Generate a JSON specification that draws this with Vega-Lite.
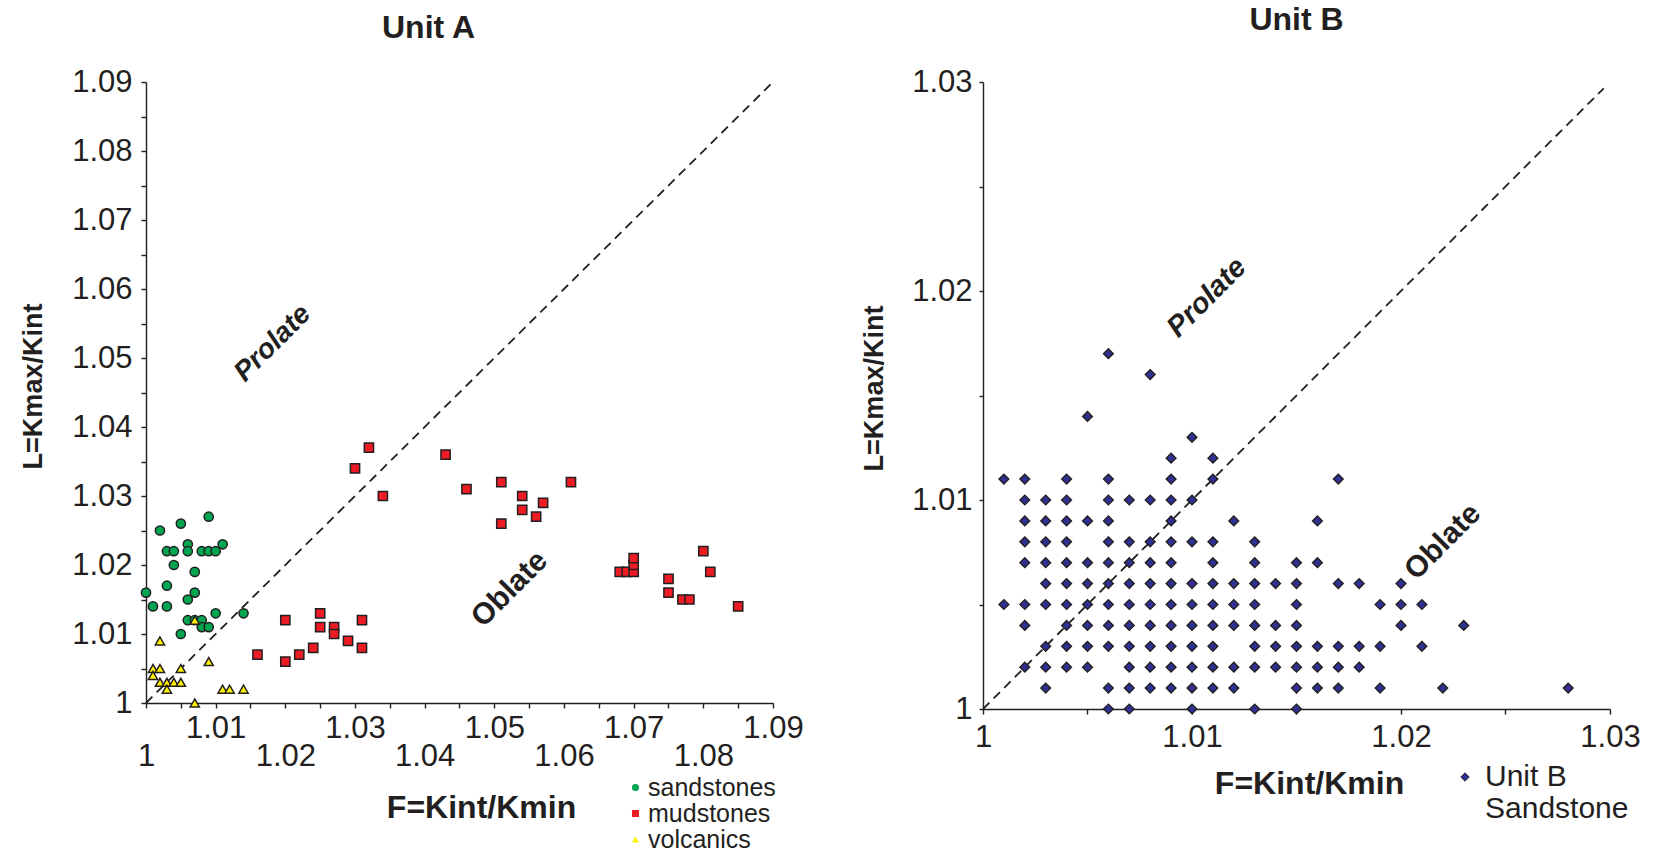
{
  "$schema": "https://vega.github.io/schema/vega-lite/v6.json",
  "background": "white",
  "padding": {"left": 19, "top": 4, "right": 5, "bottom": 0},
  "spacing": 56,
  "config": {
    "font": "Liberation Sans",
    "view": {"stroke": null},
    "axis": {
      "grid": false,
      "domainColor": "#231f20",
      "tickColor": "#231f20",
      "labelColor": "#231f20",
      "titleColor": "#231f20",
      "labelFont": "Liberation Sans",
      "titleFont": "Liberation Sans",
      "labelFontSize": 31,
      "titleFontSize": 28,
      "titleFontWeight": "bold",
      "domainWidth": 1.4,
      "tickWidth": 1.4,
      "tickSize": 5,
      "labelFlush": false,
      "labelOverlap": false,
      "labelBound": false
    },
    "legend": {"labelFont": "Liberation Sans", "labelColor": "#231f20"},
    "title": {"fontSize": 32, "fontWeight": "bold", "color": "#231f20", "font": "Liberation Sans"}
  },
  "resolve": {"scale": {"x": "independent", "y": "independent", "fill": "independent", "shape": "independent"}},
  "datasets": {
    "unitA": [
      {"F": 1.000, "L": 1.016, "type": "sandstones"},
      {"F": 1.002, "L": 1.025, "type": "sandstones"},
      {"F": 1.005, "L": 1.026, "type": "sandstones"},
      {"F": 1.009, "L": 1.027, "type": "sandstones"},
      {"F": 1.003, "L": 1.022, "type": "sandstones"},
      {"F": 1.004, "L": 1.022, "type": "sandstones"},
      {"F": 1.006, "L": 1.023, "type": "sandstones"},
      {"F": 1.006, "L": 1.022, "type": "sandstones"},
      {"F": 1.008, "L": 1.022, "type": "sandstones"},
      {"F": 1.009, "L": 1.022, "type": "sandstones"},
      {"F": 1.010, "L": 1.022, "type": "sandstones"},
      {"F": 1.011, "L": 1.023, "type": "sandstones"},
      {"F": 1.004, "L": 1.020, "type": "sandstones"},
      {"F": 1.007, "L": 1.019, "type": "sandstones"},
      {"F": 1.003, "L": 1.017, "type": "sandstones"},
      {"F": 1.007, "L": 1.016, "type": "sandstones"},
      {"F": 1.006, "L": 1.015, "type": "sandstones"},
      {"F": 1.001, "L": 1.014, "type": "sandstones"},
      {"F": 1.003, "L": 1.014, "type": "sandstones"},
      {"F": 1.010, "L": 1.013, "type": "sandstones"},
      {"F": 1.014, "L": 1.013, "type": "sandstones"},
      {"F": 1.006, "L": 1.012, "type": "sandstones"},
      {"F": 1.007, "L": 1.012, "type": "sandstones"},
      {"F": 1.008, "L": 1.012, "type": "sandstones"},
      {"F": 1.008, "L": 1.011, "type": "sandstones"},
      {"F": 1.009, "L": 1.011, "type": "sandstones"},
      {"F": 1.005, "L": 1.010, "type": "sandstones"},
      {"F": 1.016, "L": 1.007, "type": "mudstones"},
      {"F": 1.020, "L": 1.012, "type": "mudstones"},
      {"F": 1.020, "L": 1.006, "type": "mudstones"},
      {"F": 1.022, "L": 1.007, "type": "mudstones"},
      {"F": 1.024, "L": 1.008, "type": "mudstones"},
      {"F": 1.025, "L": 1.013, "type": "mudstones"},
      {"F": 1.025, "L": 1.011, "type": "mudstones"},
      {"F": 1.027, "L": 1.011, "type": "mudstones"},
      {"F": 1.027, "L": 1.010, "type": "mudstones"},
      {"F": 1.029, "L": 1.009, "type": "mudstones"},
      {"F": 1.031, "L": 1.012, "type": "mudstones"},
      {"F": 1.031, "L": 1.008, "type": "mudstones"},
      {"F": 1.030, "L": 1.034, "type": "mudstones"},
      {"F": 1.032, "L": 1.037, "type": "mudstones"},
      {"F": 1.034, "L": 1.030, "type": "mudstones"},
      {"F": 1.043, "L": 1.036, "type": "mudstones"},
      {"F": 1.046, "L": 1.031, "type": "mudstones"},
      {"F": 1.051, "L": 1.032, "type": "mudstones"},
      {"F": 1.051, "L": 1.026, "type": "mudstones"},
      {"F": 1.054, "L": 1.030, "type": "mudstones"},
      {"F": 1.054, "L": 1.028, "type": "mudstones"},
      {"F": 1.057, "L": 1.029, "type": "mudstones"},
      {"F": 1.056, "L": 1.027, "type": "mudstones"},
      {"F": 1.061, "L": 1.032, "type": "mudstones"},
      {"F": 1.068, "L": 1.019, "type": "mudstones"},
      {"F": 1.069, "L": 1.019, "type": "mudstones"},
      {"F": 1.070, "L": 1.019, "type": "mudstones"},
      {"F": 1.070, "L": 1.020, "type": "mudstones"},
      {"F": 1.070, "L": 1.021, "type": "mudstones"},
      {"F": 1.075, "L": 1.018, "type": "mudstones"},
      {"F": 1.075, "L": 1.016, "type": "mudstones"},
      {"F": 1.077, "L": 1.015, "type": "mudstones"},
      {"F": 1.078, "L": 1.015, "type": "mudstones"},
      {"F": 1.080, "L": 1.022, "type": "mudstones"},
      {"F": 1.081, "L": 1.019, "type": "mudstones"},
      {"F": 1.085, "L": 1.014, "type": "mudstones"},
      {"F": 1.007, "L": 1.012, "type": "volcanics"},
      {"F": 1.002, "L": 1.009, "type": "volcanics"},
      {"F": 1.001, "L": 1.005, "type": "volcanics"},
      {"F": 1.002, "L": 1.005, "type": "volcanics"},
      {"F": 1.005, "L": 1.005, "type": "volcanics"},
      {"F": 1.009, "L": 1.006, "type": "volcanics"},
      {"F": 1.001, "L": 1.004, "type": "volcanics"},
      {"F": 1.002, "L": 1.003, "type": "volcanics"},
      {"F": 1.003, "L": 1.003, "type": "volcanics"},
      {"F": 1.004, "L": 1.003, "type": "volcanics"},
      {"F": 1.005, "L": 1.003, "type": "volcanics"},
      {"F": 1.003, "L": 1.002, "type": "volcanics"},
      {"F": 1.011, "L": 1.002, "type": "volcanics"},
      {"F": 1.012, "L": 1.002, "type": "volcanics"},
      {"F": 1.014, "L": 1.002, "type": "volcanics"},
      {"F": 1.007, "L": 1.000, "type": "volcanics"}
    ],
    "unitB": [
      {"F": 1.006, "L": 1.017, "series": "Unit B Sandstone"},
      {"F": 1.008, "L": 1.016, "series": "Unit B Sandstone"},
      {"F": 1.005, "L": 1.014, "series": "Unit B Sandstone"},
      {"F": 1.010, "L": 1.013, "series": "Unit B Sandstone"},
      {"F": 1.009, "L": 1.012, "series": "Unit B Sandstone"},
      {"F": 1.011, "L": 1.012, "series": "Unit B Sandstone"},
      {"F": 1.001, "L": 1.011, "series": "Unit B Sandstone"},
      {"F": 1.002, "L": 1.011, "series": "Unit B Sandstone"},
      {"F": 1.004, "L": 1.011, "series": "Unit B Sandstone"},
      {"F": 1.006, "L": 1.011, "series": "Unit B Sandstone"},
      {"F": 1.009, "L": 1.011, "series": "Unit B Sandstone"},
      {"F": 1.011, "L": 1.011, "series": "Unit B Sandstone"},
      {"F": 1.017, "L": 1.011, "series": "Unit B Sandstone"},
      {"F": 1.002, "L": 1.010, "series": "Unit B Sandstone"},
      {"F": 1.003, "L": 1.010, "series": "Unit B Sandstone"},
      {"F": 1.004, "L": 1.010, "series": "Unit B Sandstone"},
      {"F": 1.006, "L": 1.010, "series": "Unit B Sandstone"},
      {"F": 1.007, "L": 1.010, "series": "Unit B Sandstone"},
      {"F": 1.008, "L": 1.010, "series": "Unit B Sandstone"},
      {"F": 1.009, "L": 1.010, "series": "Unit B Sandstone"},
      {"F": 1.010, "L": 1.010, "series": "Unit B Sandstone"},
      {"F": 1.002, "L": 1.009, "series": "Unit B Sandstone"},
      {"F": 1.003, "L": 1.009, "series": "Unit B Sandstone"},
      {"F": 1.004, "L": 1.009, "series": "Unit B Sandstone"},
      {"F": 1.005, "L": 1.009, "series": "Unit B Sandstone"},
      {"F": 1.006, "L": 1.009, "series": "Unit B Sandstone"},
      {"F": 1.009, "L": 1.009, "series": "Unit B Sandstone"},
      {"F": 1.012, "L": 1.009, "series": "Unit B Sandstone"},
      {"F": 1.016, "L": 1.009, "series": "Unit B Sandstone"},
      {"F": 1.002, "L": 1.008, "series": "Unit B Sandstone"},
      {"F": 1.003, "L": 1.008, "series": "Unit B Sandstone"},
      {"F": 1.004, "L": 1.008, "series": "Unit B Sandstone"},
      {"F": 1.006, "L": 1.008, "series": "Unit B Sandstone"},
      {"F": 1.007, "L": 1.008, "series": "Unit B Sandstone"},
      {"F": 1.008, "L": 1.008, "series": "Unit B Sandstone"},
      {"F": 1.009, "L": 1.008, "series": "Unit B Sandstone"},
      {"F": 1.010, "L": 1.008, "series": "Unit B Sandstone"},
      {"F": 1.011, "L": 1.008, "series": "Unit B Sandstone"},
      {"F": 1.013, "L": 1.008, "series": "Unit B Sandstone"},
      {"F": 1.002, "L": 1.007, "series": "Unit B Sandstone"},
      {"F": 1.003, "L": 1.007, "series": "Unit B Sandstone"},
      {"F": 1.004, "L": 1.007, "series": "Unit B Sandstone"},
      {"F": 1.005, "L": 1.007, "series": "Unit B Sandstone"},
      {"F": 1.006, "L": 1.007, "series": "Unit B Sandstone"},
      {"F": 1.007, "L": 1.007, "series": "Unit B Sandstone"},
      {"F": 1.008, "L": 1.007, "series": "Unit B Sandstone"},
      {"F": 1.009, "L": 1.007, "series": "Unit B Sandstone"},
      {"F": 1.011, "L": 1.007, "series": "Unit B Sandstone"},
      {"F": 1.013, "L": 1.007, "series": "Unit B Sandstone"},
      {"F": 1.015, "L": 1.007, "series": "Unit B Sandstone"},
      {"F": 1.016, "L": 1.007, "series": "Unit B Sandstone"},
      {"F": 1.003, "L": 1.006, "series": "Unit B Sandstone"},
      {"F": 1.004, "L": 1.006, "series": "Unit B Sandstone"},
      {"F": 1.005, "L": 1.006, "series": "Unit B Sandstone"},
      {"F": 1.006, "L": 1.006, "series": "Unit B Sandstone"},
      {"F": 1.007, "L": 1.006, "series": "Unit B Sandstone"},
      {"F": 1.008, "L": 1.006, "series": "Unit B Sandstone"},
      {"F": 1.009, "L": 1.006, "series": "Unit B Sandstone"},
      {"F": 1.010, "L": 1.006, "series": "Unit B Sandstone"},
      {"F": 1.011, "L": 1.006, "series": "Unit B Sandstone"},
      {"F": 1.012, "L": 1.006, "series": "Unit B Sandstone"},
      {"F": 1.013, "L": 1.006, "series": "Unit B Sandstone"},
      {"F": 1.014, "L": 1.006, "series": "Unit B Sandstone"},
      {"F": 1.015, "L": 1.006, "series": "Unit B Sandstone"},
      {"F": 1.017, "L": 1.006, "series": "Unit B Sandstone"},
      {"F": 1.018, "L": 1.006, "series": "Unit B Sandstone"},
      {"F": 1.020, "L": 1.006, "series": "Unit B Sandstone"},
      {"F": 1.001, "L": 1.005, "series": "Unit B Sandstone"},
      {"F": 1.002, "L": 1.005, "series": "Unit B Sandstone"},
      {"F": 1.003, "L": 1.005, "series": "Unit B Sandstone"},
      {"F": 1.004, "L": 1.005, "series": "Unit B Sandstone"},
      {"F": 1.005, "L": 1.005, "series": "Unit B Sandstone"},
      {"F": 1.006, "L": 1.005, "series": "Unit B Sandstone"},
      {"F": 1.007, "L": 1.005, "series": "Unit B Sandstone"},
      {"F": 1.008, "L": 1.005, "series": "Unit B Sandstone"},
      {"F": 1.009, "L": 1.005, "series": "Unit B Sandstone"},
      {"F": 1.010, "L": 1.005, "series": "Unit B Sandstone"},
      {"F": 1.011, "L": 1.005, "series": "Unit B Sandstone"},
      {"F": 1.012, "L": 1.005, "series": "Unit B Sandstone"},
      {"F": 1.013, "L": 1.005, "series": "Unit B Sandstone"},
      {"F": 1.015, "L": 1.005, "series": "Unit B Sandstone"},
      {"F": 1.019, "L": 1.005, "series": "Unit B Sandstone"},
      {"F": 1.020, "L": 1.005, "series": "Unit B Sandstone"},
      {"F": 1.021, "L": 1.005, "series": "Unit B Sandstone"},
      {"F": 1.002, "L": 1.004, "series": "Unit B Sandstone"},
      {"F": 1.004, "L": 1.004, "series": "Unit B Sandstone"},
      {"F": 1.005, "L": 1.004, "series": "Unit B Sandstone"},
      {"F": 1.006, "L": 1.004, "series": "Unit B Sandstone"},
      {"F": 1.007, "L": 1.004, "series": "Unit B Sandstone"},
      {"F": 1.008, "L": 1.004, "series": "Unit B Sandstone"},
      {"F": 1.009, "L": 1.004, "series": "Unit B Sandstone"},
      {"F": 1.010, "L": 1.004, "series": "Unit B Sandstone"},
      {"F": 1.011, "L": 1.004, "series": "Unit B Sandstone"},
      {"F": 1.012, "L": 1.004, "series": "Unit B Sandstone"},
      {"F": 1.013, "L": 1.004, "series": "Unit B Sandstone"},
      {"F": 1.014, "L": 1.004, "series": "Unit B Sandstone"},
      {"F": 1.015, "L": 1.004, "series": "Unit B Sandstone"},
      {"F": 1.020, "L": 1.004, "series": "Unit B Sandstone"},
      {"F": 1.023, "L": 1.004, "series": "Unit B Sandstone"},
      {"F": 1.003, "L": 1.003, "series": "Unit B Sandstone"},
      {"F": 1.004, "L": 1.003, "series": "Unit B Sandstone"},
      {"F": 1.005, "L": 1.003, "series": "Unit B Sandstone"},
      {"F": 1.006, "L": 1.003, "series": "Unit B Sandstone"},
      {"F": 1.007, "L": 1.003, "series": "Unit B Sandstone"},
      {"F": 1.008, "L": 1.003, "series": "Unit B Sandstone"},
      {"F": 1.009, "L": 1.003, "series": "Unit B Sandstone"},
      {"F": 1.010, "L": 1.003, "series": "Unit B Sandstone"},
      {"F": 1.011, "L": 1.003, "series": "Unit B Sandstone"},
      {"F": 1.013, "L": 1.003, "series": "Unit B Sandstone"},
      {"F": 1.014, "L": 1.003, "series": "Unit B Sandstone"},
      {"F": 1.015, "L": 1.003, "series": "Unit B Sandstone"},
      {"F": 1.016, "L": 1.003, "series": "Unit B Sandstone"},
      {"F": 1.017, "L": 1.003, "series": "Unit B Sandstone"},
      {"F": 1.018, "L": 1.003, "series": "Unit B Sandstone"},
      {"F": 1.019, "L": 1.003, "series": "Unit B Sandstone"},
      {"F": 1.021, "L": 1.003, "series": "Unit B Sandstone"},
      {"F": 1.002, "L": 1.002, "series": "Unit B Sandstone"},
      {"F": 1.003, "L": 1.002, "series": "Unit B Sandstone"},
      {"F": 1.004, "L": 1.002, "series": "Unit B Sandstone"},
      {"F": 1.005, "L": 1.002, "series": "Unit B Sandstone"},
      {"F": 1.007, "L": 1.002, "series": "Unit B Sandstone"},
      {"F": 1.008, "L": 1.002, "series": "Unit B Sandstone"},
      {"F": 1.009, "L": 1.002, "series": "Unit B Sandstone"},
      {"F": 1.010, "L": 1.002, "series": "Unit B Sandstone"},
      {"F": 1.011, "L": 1.002, "series": "Unit B Sandstone"},
      {"F": 1.012, "L": 1.002, "series": "Unit B Sandstone"},
      {"F": 1.013, "L": 1.002, "series": "Unit B Sandstone"},
      {"F": 1.014, "L": 1.002, "series": "Unit B Sandstone"},
      {"F": 1.015, "L": 1.002, "series": "Unit B Sandstone"},
      {"F": 1.016, "L": 1.002, "series": "Unit B Sandstone"},
      {"F": 1.017, "L": 1.002, "series": "Unit B Sandstone"},
      {"F": 1.018, "L": 1.002, "series": "Unit B Sandstone"},
      {"F": 1.003, "L": 1.001, "series": "Unit B Sandstone"},
      {"F": 1.006, "L": 1.001, "series": "Unit B Sandstone"},
      {"F": 1.007, "L": 1.001, "series": "Unit B Sandstone"},
      {"F": 1.008, "L": 1.001, "series": "Unit B Sandstone"},
      {"F": 1.009, "L": 1.001, "series": "Unit B Sandstone"},
      {"F": 1.010, "L": 1.001, "series": "Unit B Sandstone"},
      {"F": 1.011, "L": 1.001, "series": "Unit B Sandstone"},
      {"F": 1.012, "L": 1.001, "series": "Unit B Sandstone"},
      {"F": 1.015, "L": 1.001, "series": "Unit B Sandstone"},
      {"F": 1.016, "L": 1.001, "series": "Unit B Sandstone"},
      {"F": 1.017, "L": 1.001, "series": "Unit B Sandstone"},
      {"F": 1.019, "L": 1.001, "series": "Unit B Sandstone"},
      {"F": 1.022, "L": 1.001, "series": "Unit B Sandstone"},
      {"F": 1.028, "L": 1.001, "series": "Unit B Sandstone"},
      {"F": 1.006, "L": 1.000, "series": "Unit B Sandstone"},
      {"F": 1.007, "L": 1.000, "series": "Unit B Sandstone"},
      {"F": 1.010, "L": 1.000, "series": "Unit B Sandstone"},
      {"F": 1.013, "L": 1.000, "series": "Unit B Sandstone"},
      {"F": 1.015, "L": 1.000, "series": "Unit B Sandstone"}
    ]
  },
  "hconcat": [
    {
      "width": 627,
      "height": 621,
      "title": {"text": "Unit A", "offset": 21, "dx": -31},
      "encoding": {
        "x": {
          "field": "F",
          "type": "quantitative",
          "scale": {"domain": [1, 1.09], "nice": false, "zero": false},
          "axis": {
            "title": "F=Kint/Kmin",
            "titleFontSize": 32,
            "titleX": 335,
            "titleY": 104,
            "titleBaseline": "middle",
            "values": [1, 1.005, 1.01, 1.015, 1.02, 1.025, 1.03, 1.035, 1.04, 1.045, 1.05, 1.055, 1.06, 1.065, 1.07, 1.075, 1.08, 1.085, 1.09],
            "format": ".2~f",
            "labelExpr": "round((datum.value-1)*200) % 2 == 1 ? '' : (round((datum.value-1)*100) % 2 == 1 ? datum.label : ['', datum.label])",
            "labelBaseline": "top",
            "labelLineHeight": 28,
            "labelPadding": 5
          }
        },
        "y": {
          "field": "L",
          "type": "quantitative",
          "scale": {"domain": [1, 1.09], "nice": false, "zero": false},
          "axis": {
            "title": "L=Kmax/Kint",
            "titleFontSize": 27,
            "titleX": -113,
            "titleY": 304,
            "titleBaseline": "middle",
            "values": [1, 1.005, 1.01, 1.015, 1.02, 1.025, 1.03, 1.035, 1.04, 1.045, 1.05, 1.055, 1.06, 1.065, 1.07, 1.075, 1.08, 1.085, 1.09],
            "format": ".2~f",
            "labelExpr": "round((datum.value-1)*200) % 2 == 1 ? '' : datum.label",
            "labelPadding": 9
          }
        }
      },
      "layer": [
        {
          "data": {"values": [{"F": 1, "L": 1, "F2": 1.09, "L2": 1.09}]},
          "mark": {"type": "rule", "strokeDash": [9, 6], "strokeWidth": 1.8, "color": "#231f20"},
          "encoding": {"x2": {"field": "F2"}, "y2": {"field": "L2"}}
        },
        {
          "data": {"name": "unitA"},
          "mark": {"type": "point", "filled": true, "size": 85, "stroke": "#231f20", "strokeWidth": 1.5, "opacity": 1},
          "encoding": {
            "fill": {
              "field": "type",
              "type": "nominal",
              "scale": {"domain": ["sandstones", "mudstones", "volcanics"], "range": ["#00a551", "#ed1c24", "#fff200"]},
              "legend": {"orient": "none", "legendX": 477, "legendY": 693, "title": null, "labelFontSize": 25, "symbolSize": 50, "symbolStrokeColor": "#231f20", "symbolStrokeWidth": 1.2, "rowPadding": -1, "labelOffset": 0, "padding": 0}
            },
            "shape": {
              "field": "type",
              "type": "nominal",
              "scale": {"domain": ["sandstones", "mudstones", "volcanics"], "range": ["circle", "square", "triangle-up"]},
              "legend": {"orient": "none", "legendX": 477, "legendY": 693, "title": null, "labelFontSize": 25, "symbolSize": 50, "symbolStrokeColor": "#231f20", "symbolStrokeWidth": 1.2, "rowPadding": -1, "labelOffset": 0, "padding": 0}
            }
          }
        },
        {
          "data": {"values": [{"F": 1.0182, "L": 1.0521, "label": "Prolate"}]},
          "mark": {"type": "text", "angle": -45, "fontSize": 28, "fontWeight": "bold", "fontStyle": "italic", "color": "#231f20", "align": "center", "baseline": "middle"},
          "encoding": {"text": {"field": "label"}}
        },
        {
          "data": {"values": [{"F": 1.0522, "L": 1.0165, "label": "Oblate"}]},
          "mark": {"type": "text", "angle": -45, "fontSize": 30, "fontWeight": "bold", "color": "#231f20", "align": "center", "baseline": "middle"},
          "encoding": {"text": {"field": "label"}}
        }
      ]
    },
    {
      "width": 627,
      "height": 627,
      "title": {"text": "Unit B", "offset": 29},
      "encoding": {
        "x": {
          "field": "F",
          "type": "quantitative",
          "scale": {"domain": [1, 1.03], "nice": false, "zero": false},
          "axis": {
            "title": "F=Kint/Kmin",
            "titleFontSize": 32,
            "titleX": 326,
            "titleY": 74,
            "titleBaseline": "middle",
            "values": [1, 1.005, 1.01, 1.015, 1.02, 1.025, 1.03],
            "format": ".2~f",
            "labelExpr": "round((datum.value-1)*200) % 2 == 1 ? '' : datum.label",
            "labelBaseline": "top",
            "labelPadding": 8
          }
        },
        "y": {
          "field": "L",
          "type": "quantitative",
          "scale": {"domain": [1, 1.03], "nice": false, "zero": false},
          "axis": {
            "title": "L=Kmax/Kint",
            "titleFontSize": 27,
            "titleX": -109,
            "titleY": 306,
            "titleBaseline": "middle",
            "values": [1, 1.005, 1.01, 1.015, 1.02, 1.025, 1.03],
            "format": ".2~f",
            "labelExpr": "round((datum.value-1)*200) % 2 == 1 ? '' : datum.label",
            "labelPadding": 7,
            "tickSize": 4
          }
        }
      },
      "layer": [
        {
          "data": {"values": [{"F": 1, "L": 1, "F2": 1.0297, "L2": 1.0297}]},
          "mark": {"type": "rule", "strokeDash": [9, 6], "strokeWidth": 1.8, "color": "#231f20"},
          "encoding": {"x2": {"field": "F2"}, "y2": {"field": "L2"}}
        },
        {
          "data": {"name": "unitB"},
          "mark": {"type": "point", "filled": true, "shape": "diamond", "size": 95, "stroke": "#231f20", "strokeWidth": 1.4, "opacity": 1},
          "encoding": {
            "fill": {
              "field": "series",
              "type": "nominal",
              "scale": {"domain": ["Unit B Sandstone"], "range": ["#2e3192"]},
              "legend": {"orient": "none", "legendX": 467, "legendY": 680, "title": null, "labelFontSize": 30, "labelExpr": "['Unit B', 'Sandstone']", "symbolType": "diamond", "symbolSize": 70, "symbolStrokeColor": "#231f20", "symbolStrokeWidth": 1, "labelOffset": 5, "padding": 0}
            }
          }
        },
        {
          "data": {"values": [{"F": 1.0107, "L": 1.0197, "label": "Prolate"}]},
          "mark": {"type": "text", "angle": -45, "fontSize": 29, "fontWeight": "bold", "fontStyle": "italic", "color": "#231f20", "align": "center", "baseline": "middle"},
          "encoding": {"text": {"field": "label"}}
        },
        {
          "data": {"values": [{"F": 1.022, "L": 1.008, "label": "Oblate"}]},
          "mark": {"type": "text", "angle": -45, "fontSize": 30, "fontWeight": "bold", "color": "#231f20", "align": "center", "baseline": "middle"},
          "encoding": {"text": {"field": "label"}}
        }
      ]
    }
  ]
}
